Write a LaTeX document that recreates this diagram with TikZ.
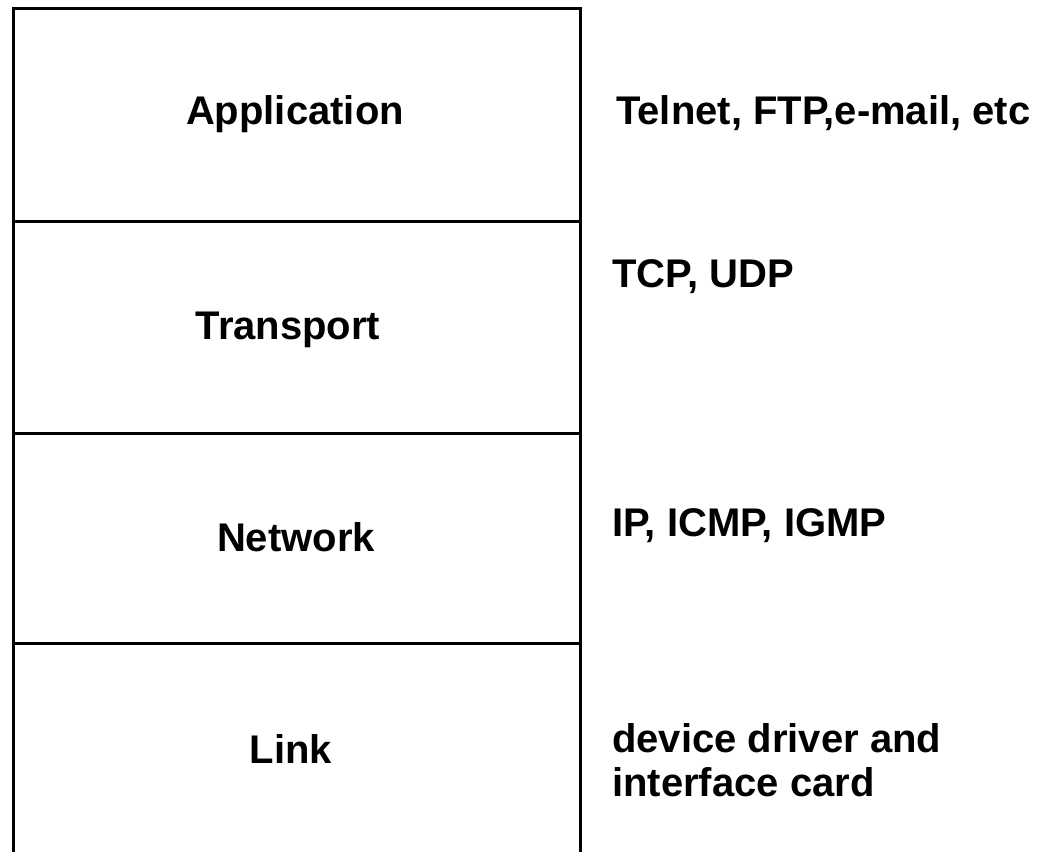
\documentclass[tikz,border=0pt]{standalone}
\usepackage{fontspec}
\setmainfont{Liberation Sans}
\begin{document}
\begin{tikzpicture}[x=1pt,y=-1pt,
  rule/.style={line width=3.5pt},
  layer/.style={font=\fontsize{40}{44}\selectfont\bfseries, anchor=base, inner sep=0pt},
  proto/.style={font=\fontsize{40}{44}\selectfont\bfseries, anchor=base west, inner sep=0pt, align=left}]
\useasboundingbox (0,0) rectangle (1049,852);
\coordinate (tl) at (13.5,8.5);
\coordinate (tr) at (580.5,8.5);
\coordinate (bl) at (13.5,852);
\coordinate (br) at (580.5,852);
\coordinate (l1) at (13.5,221.5);
\coordinate (r1) at (580.5,221.5);
\coordinate (l2) at (13.5,433.5);
\coordinate (r2) at (580.5,433.5);
\coordinate (l3) at (13.5,643.5);
\coordinate (r3) at (580.5,643.5);
\draw[rule] (bl) -- (tl) -- (tr) -- (br);
\draw[rule] (l1) -- (r1);
\draw[rule] (l2) -- (r2);
\draw[rule] (l3) -- (r3);
\node[layer] (app) at (295,124) {Application};
\node[layer] (tra) at (288,339) {Transport};
\node[layer] (net) at (296,551) {Network};
\node[layer] (lnk) at (291,763) {Link};
\node[proto] (p1) at (616,124) {Telnet, FTP,e-mail, etc};
\node[proto] (p2) at (612,287) {TCP, UDP};
\node[proto] (p3) at (612,536) {IP, ICMP, IGMP};
\node[proto] (p4) at (612,752) {device driver and};
\node[proto] (p5) at (612,796) {interface card};
\end{tikzpicture}
\end{document}
